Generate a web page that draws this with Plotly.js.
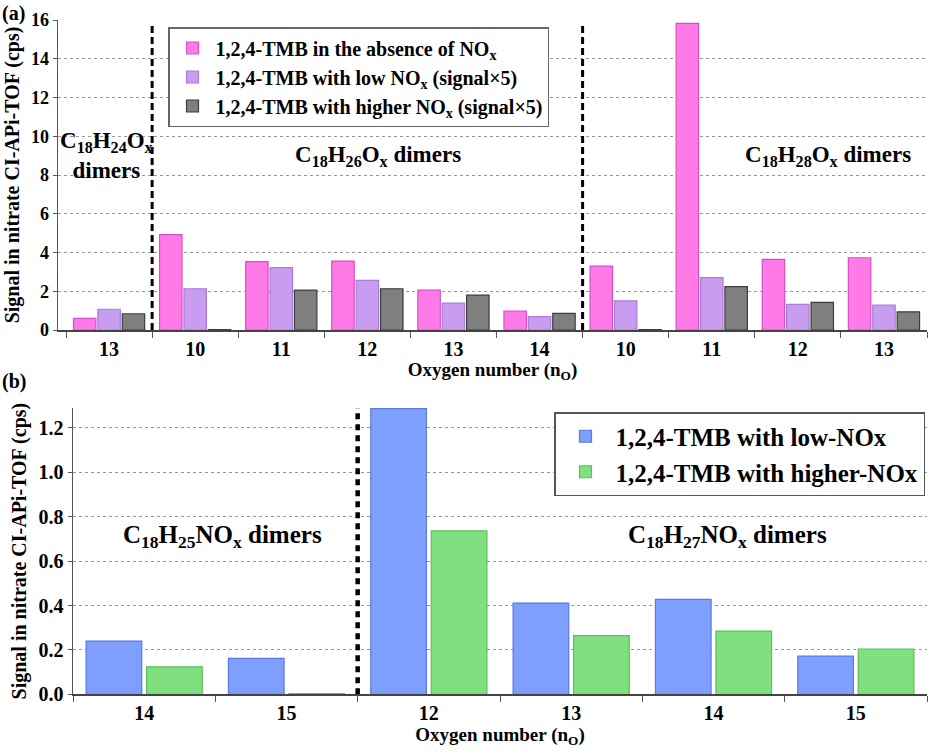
<!DOCTYPE html>
<html>
<head>
<meta charset="utf-8">
<script src="https://cdn.plot.ly/plotly-3.0.1.min.js"></script>
<style>
  body { margin: 0; background: #fff; }
  #myDiv { width: 936px; height: 755px; }
</style>
</head>
<body>
<div id="myDiv"></div>
<script>
// panel (a): dimer families and oxygen numbers
let groupA = ["C18H24Ox", "C18H26Ox", "C18H26Ox", "C18H26Ox", "C18H26Ox", "C18H26Ox",
  "C18H28Ox", "C18H28Ox", "C18H28Ox", "C18H28Ox"];
let oxygenA = [13, 10, 11, 12, 13, 14, 10, 11, 12, 13];
let absenceNOx = [0.60, 4.92, 3.53, 3.56, 2.06, 0.98, 3.30, 15.83, 3.65, 3.73];
let lowNOx = [1.07, 2.13, 3.22, 2.56, 1.39, 0.69, 1.50, 2.70, 1.32, 1.29];
let higherNOx = [0.84, 0.02, 2.06, 2.13, 1.80, 0.86, 0.02, 2.24, 1.43, 0.94];

// panel (b): nitrate dimers
let groupB = ["C18H25NOx", "C18H25NOx", "C18H27NOx", "C18H27NOx", "C18H27NOx", "C18H27NOx"];
let oxygenB = [14, 15, 12, 13, 14, 15];
let lowNOxB = [0.240, 0.162, 1.287, 0.411, 0.428, 0.172];
let higherNOxB = [0.124, 0.003, 0.736, 0.264, 0.285, 0.204];

let serif = "Liberation Serif";

function keys(groups, oxy) {
  return groups.map((g, i) => g + "_" + oxy[i]);
}

// C18H26Ox -> C<sub>18</sub>H<sub>26</sub>O<sub>x</sub>
function formula(g) {
  return g.replace(/(\d+)/g, "<sub>$1</sub>").replace(/x$/, "<sub>x</sub>");
}

// dashed separators where the dimer family changes
function dividers(groups, xref, yref, top, dash, width) {
  let out = [];
  for (let i = 1; i < groups.length; i++) {
    if (groups[i] !== groups[i - 1]) {
      out.push({
        type: "line", xref: xref, yref: yref,
        x0: i - 0.5, x1: i - 0.5, y0: 0, y1: top,
        line: {color: "#000", width: width, dash: dash}
      });
    }
  }
  return out;
}

let kA = keys(groupA, oxygenA);
let kB = keys(groupB, oxygenB);

function bar(x, y, name, fill, edge, xa, ya, legend) {
  return {
    type: "bar", x: x, y: y, name: name,
    xaxis: xa, yaxis: ya, legend: legend,
    marker: {color: fill, line: {color: edge, width: 1.2}}
  };
}

let data = [
  bar(kA, absenceNOx, "1,2,4-TMB in the absence of NO<sub>x</sub>", "#ff7ae6", "#d650c4", "x", "y", "legend"),
  bar(kA, lowNOx, "1,2,4-TMB with low NO<sub>x</sub> (signal×5)", "#c89cf0", "#a87cd8", "x", "y", "legend"),
  bar(kA, higherNOx, "1,2,4-TMB with higher NO<sub>x</sub> (signal×5)", "#7f7f7f", "#3c3c3c", "x", "y", "legend"),
  bar(kB, lowNOxB, "1,2,4-TMB with low-NOx", "#7f9fff", "#5a78e0", "x2", "y2", "legend2"),
  bar(kB, higherNOxB, "1,2,4-TMB with higher-NOx", "#80e080", "#58c058", "x2", "y2", "legend2")
];

function f(size) {
  return {family: serif, size: size, color: "#000", weight: 700};
}

function xAxis(domain, k, oxy, anchor) {
  return {
    domain: domain, anchor: anchor, type: "category",
    tickmode: "array", tickvals: k, ticktext: oxy.map(String),
    tickson: "boundaries", ticks: "outside", ticklen: 6, tickcolor: "#555",
    showline: true, linecolor: "#444", linewidth: 1.5,
    showgrid: false, zeroline: false, tickfont: f(20),
    title: {text: "Oxygen number (n<sub>O</sub>)", font: f(19), standoff: 0}
  };
}

function yAxis(domain, range, dtick, fmt, anchor, size) {
  return {
    domain: domain, anchor: anchor, range: range, dtick: dtick, tickformat: fmt,
    ticks: "outside", ticklen: 4, tickcolor: "#555",
    showline: true, linecolor: "#555", linewidth: 1.5,
    showgrid: true, gridcolor: "#999", griddash: "dot", gridwidth: 1,
    zeroline: false, tickfont: f(size),
    title: {text: "Signal in nitrate CI-APi-TOF (cps)", font: f(20), standoff: 6}
  };
}

let layout = {
  width: 936, height: 755,
  margin: {l: 0, r: 0, t: 0, b: 0},
  paper_bgcolor: "#fff", plot_bgcolor: "#fff",
  font: {family: serif, color: "#000"},
  barmode: "group", bargap: 0.15, bargroupgap: 0.08,
  xaxis: xAxis([58 / 936, 927 / 936], kA, oxygenA, "y"),
  yaxis: yAxis([425 / 755, 735 / 755], [0, 16], 2, "d", "x", 18),
  xaxis2: xAxis([73 / 936, 927 / 936], kB, oxygenB, "y2"),
  yaxis2: yAxis([60.7 / 755, 347 / 755], [0, 1.29], 0.2, ".1f", "x2", 20),
  legend: {
    x: 168 / 936, y: 1 - 27 / 755, xanchor: "left", yanchor: "top",
    bordercolor: "#666", borderwidth: 1.5, bgcolor: "#fff",
    font: f(20), tracegroupgap: 0, itemwidth: 36
  },
  legend2: {
    x: 554 / 936, y: 1 - 412 / 755, xanchor: "left", yanchor: "top",
    bordercolor: "#555", borderwidth: 1.5, bgcolor: "#fff",
    font: f(25), tracegroupgap: 0, itemwidth: 50
  },
  shapes: [].concat(
    dividers(groupA, "x", "y", 15.9, "7px,4px", 3),
    dividers(groupB, "x2", "y2", 1.31, "6px,5px", 4.5)
  ),
  annotations: [
    {xref: "paper", yref: "paper", x: 0, y: 1, xanchor: "left", yanchor: "top",
      text: "(a)", showarrow: false, font: f(20)},
    {xref: "paper", yref: "paper", x: 0, y: 1 - 368 / 755, xanchor: "left", yanchor: "top",
      text: "(b)", showarrow: false, font: f(20)},
    {xref: "x", yref: "y", x: -0.03, y: 9.0, text: formula(groupA[0]) + "<br>dimers",
      showarrow: false, font: f(23)},
    {xref: "x", yref: "y", x: 3.125, y: 9.0, text: formula(groupA[3]) + " dimers",
      showarrow: false, font: f(23)},
    {xref: "x", yref: "y", x: 8.35, y: 9.0, text: formula(groupA[8]) + " dimers",
      showarrow: false, font: f(23)},
    {xref: "x2", yref: "y2", x: 0.55, y: 0.71, text: formula(groupB[0]) + " dimers",
      showarrow: false, font: f(25)},
    {xref: "x2", yref: "y2", x: 4.1, y: 0.71, text: formula(groupB[3]) + " dimers",
      showarrow: false, font: f(25)}
  ]
};

Plotly.newPlot("myDiv", data, layout, {displayModeBar: false, staticPlot: true});
</script>
</body>
</html>
